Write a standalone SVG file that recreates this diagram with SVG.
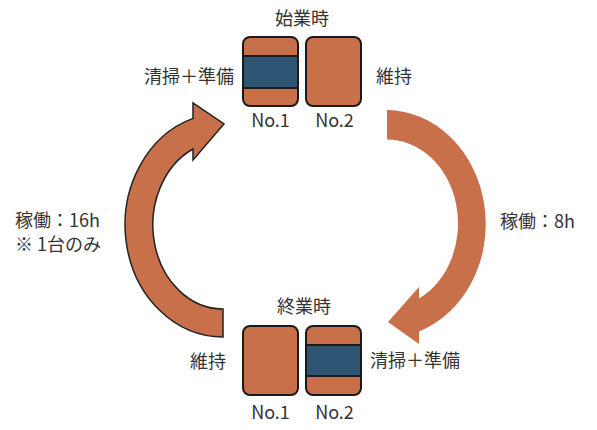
<svg xmlns="http://www.w3.org/2000/svg" width="597" height="430" viewBox="0 0 597 430">
  <style>
    text { font-family: "Noto Sans CJK JP", "Noto Sans", sans-serif; font-size: 18px; fill: #333333; }
    .mid { text-anchor: middle; }
    .end { text-anchor: end; }
    .box { fill: #C8704A; }
    .band { fill: #2E5573; }
    .outline { fill: none; stroke: #1a1a1a; stroke-width: 2; }
    .bandline { stroke: #1a1a1a; stroke-width: 2; }
    .arrow { fill: #C8704A; }
  </style>
  <rect width="597" height="430" fill="#ffffff"/>

  <g id="connectors">
    <path id="arrow-left" class="arrow" stroke="#222" stroke-width="1.5" stroke-linejoin="miter"
      d="M 223 337 A 98 112 0 0 1 193 118.4 L 193 103 L 224 124 L 193 160 L 193 149 A 70 84 0 0 0 223 309 Z"/>
    <path id="arrow-right" class="arrow"
      d="M 387 110 A 100 114 0 0 1 419 331.5 L 419 344 L 388 322 L 419 287 L 419 298.5 A 71 84 0 0 0 387 139.5 Z"/>
  </g>

  <g id="start-label">
    <text class="mid" x="302" y="25">始業時</text>
  </g>
  <g id="start-no1">
    <rect class="box" x="243" y="37" width="55" height="69" rx="7"/>
    <rect class="band" x="243" y="56" width="55" height="32"/>
    <line class="bandline" x1="243" y1="56" x2="298" y2="56"/>
    <line class="bandline" x1="243" y1="88" x2="298" y2="88"/>
    <rect class="outline" x="243" y="37" width="55" height="69" rx="7"/>
    <text class="mid" x="270.5" y="126.5">No.1</text>
    <text class="end" x="234" y="83">清掃＋準備</text>
  </g>
  <g id="start-no2">
    <rect class="box" x="306" y="37" width="55" height="69" rx="7"/>
    <rect class="outline" x="306" y="37" width="55" height="69" rx="7"/>
    <text class="mid" x="334.5" y="126.5">No.2</text>
    <text x="376" y="83">維持</text>
  </g>

  <g id="left-label">
    <text x="15" y="227">稼働：16h</text>
    <text x="15" y="251">※ 1台のみ</text>
  </g>
  <g id="right-label">
    <text x="500" y="228">稼働：8h</text>
  </g>

  <g id="end-label">
    <text class="mid" x="304" y="313">終業時</text>
  </g>
  <g id="end-no1">
    <rect class="box" x="243" y="326" width="55" height="69" rx="7"/>
    <rect class="outline" x="243" y="326" width="55" height="69" rx="7"/>
    <text class="mid" x="270.5" y="419">No.1</text>
    <text class="end" x="226" y="368">維持</text>
  </g>
  <g id="end-no2">
    <rect class="box" x="306" y="326" width="55" height="69" rx="7"/>
    <rect class="band" x="306" y="345" width="55" height="31"/>
    <line class="bandline" x1="306" y1="345" x2="361" y2="345"/>
    <line class="bandline" x1="306" y1="376" x2="361" y2="376"/>
    <rect class="outline" x="306" y="326" width="55" height="69" rx="7"/>
    <text class="mid" x="334.5" y="419">No.2</text>
    <text x="370" y="367">清掃＋準備</text>
  </g>
</svg>
